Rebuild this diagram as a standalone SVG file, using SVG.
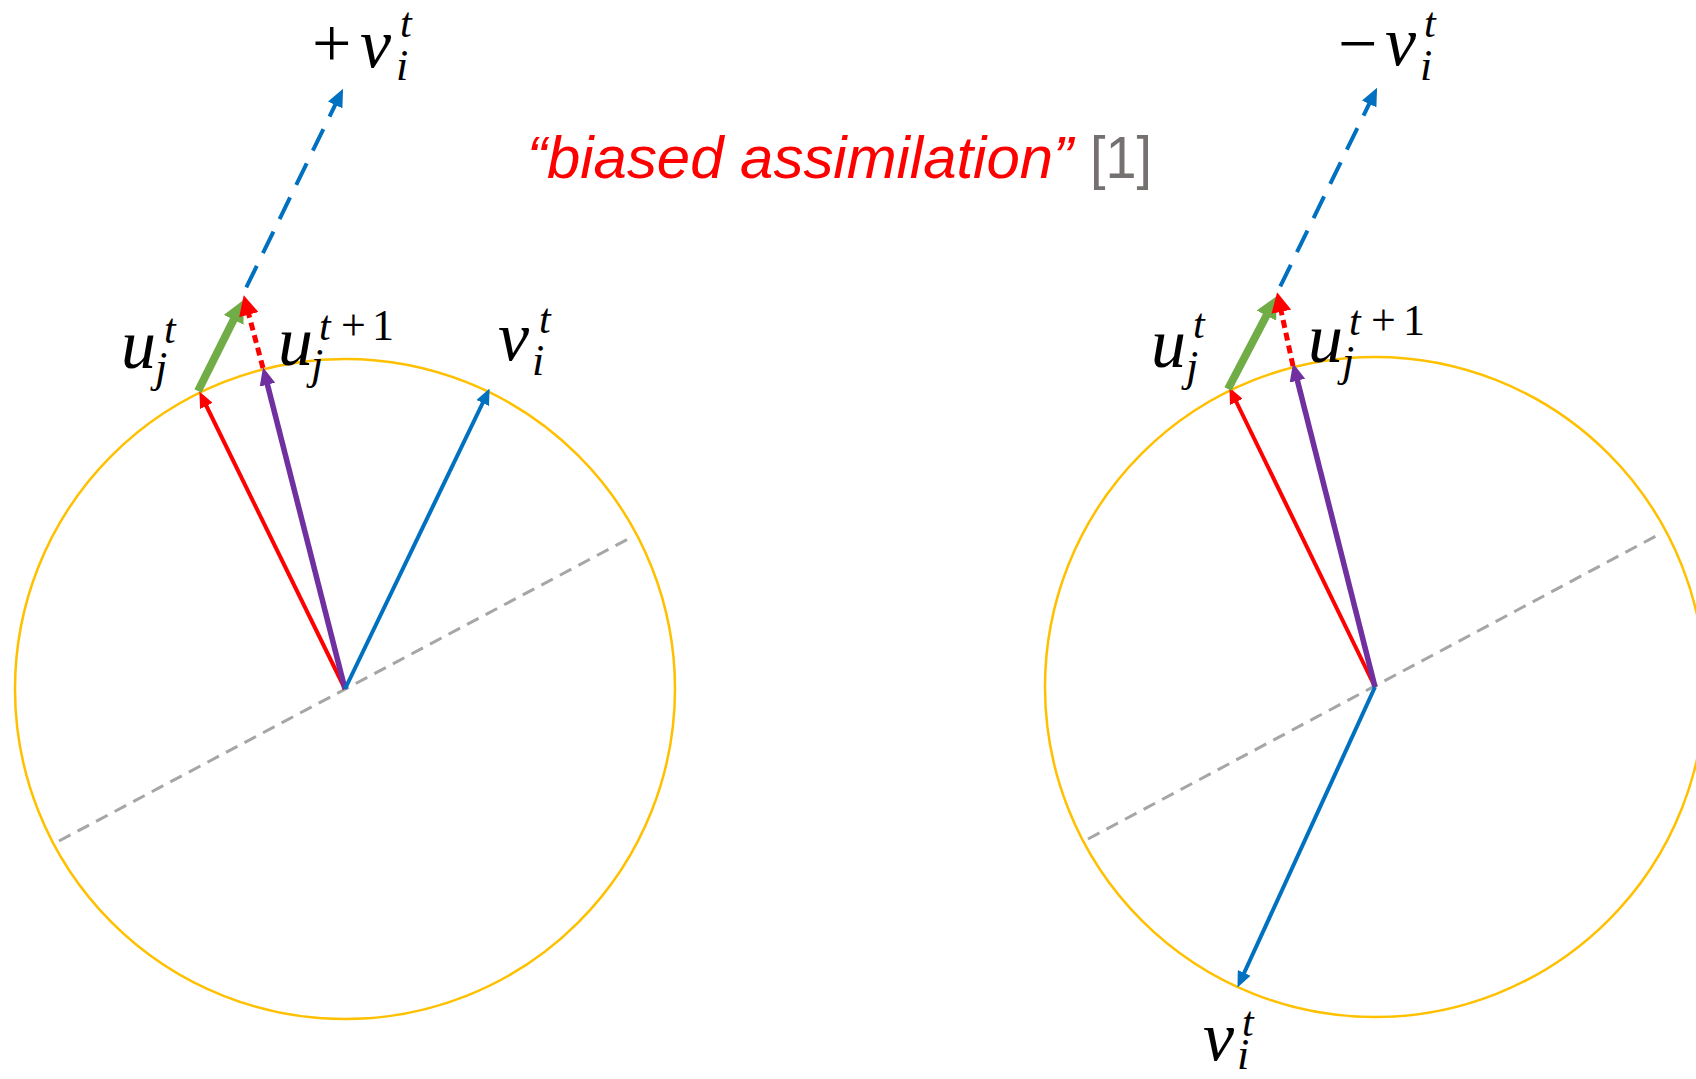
<svg xmlns="http://www.w3.org/2000/svg" width="1696" height="1079" viewBox="0 0 1696 1079">
<style>
.circ{fill:none;stroke:#FFC000;stroke-width:2.5}
.axis{fill:none;stroke:#A6A6A6;stroke-width:3;stroke-dasharray:13 8}
.red{fill:none;stroke:#FF0000;stroke-width:4}
.blue{fill:none;stroke:#0070C0;stroke-width:4}
.purple{fill:none;stroke:#7030A0;stroke-width:5.5}
.green{fill:none;stroke:#70AD47;stroke-width:8}
.reddot{fill:none;stroke:#FF0000;stroke-width:5;stroke-dasharray:8 5}
.bluedash{fill:none;stroke:#0070C0;stroke-width:4;stroke-dasharray:24 14}
.m{font-family:"Liberation Serif","DejaVu Serif",serif;fill:#000}
.mi{font-family:"Liberation Serif","DejaVu Serif",serif;font-style:italic;fill:#000}
.big{font-size:70px}
.sc{font-size:44px}
.sp{font-size:42px}
.title{font-family:"Liberation Sans",Arial,sans-serif;font-size:60px}
</style>
<defs>
<marker id="hRed" markerUnits="userSpaceOnUse" markerWidth="16" markerHeight="14" refX="10" refY="7" orient="auto"><path d="M0,0 L16,7 L0,14 z" fill="#FF0000"/></marker>
<marker id="hBlue" markerUnits="userSpaceOnUse" markerWidth="16" markerHeight="14" refX="10" refY="7" orient="auto"><path d="M0,0 L16,7 L0,14 z" fill="#0070C0"/></marker>
<marker id="hPurple" markerUnits="userSpaceOnUse" markerWidth="18" markerHeight="16" refX="10" refY="8" orient="auto"><path d="M0,0 L18,8 L0,16 z" fill="#7030A0"/></marker>
<marker id="hGreen" markerUnits="userSpaceOnUse" markerWidth="22" markerHeight="22" refX="12" refY="11" orient="auto"><path d="M0,0 L22,11 L0,22 z" fill="#70AD47"/></marker>
<marker id="hRedDot" markerUnits="userSpaceOnUse" markerWidth="20" markerHeight="20" refX="11" refY="10" orient="auto"><path d="M0,0 L20,10 L0,20 z" fill="#FF0000"/></marker>
<marker id="hBlueDash" markerUnits="userSpaceOnUse" markerWidth="18" markerHeight="16" refX="11" refY="8" orient="auto-start-reverse"><path d="M0,0 L18,8 L0,16 z" fill="#0070C0"/></marker>
</defs>

<g id="left-circle"><circle class="circ" cx="345" cy="689" r="330"/></g>
<g id="right-circle"><circle class="circ" cx="1375" cy="687" r="330"/></g>

<g id="connectors">
<!-- left -->
<line class="axis" x1="59" y1="841" x2="630" y2="538"/>
<line class="red" x1="345" y1="689" x2="202" y2="397" marker-end="url(#hRed)"/>
<line class="purple" x1="345" y1="689" x2="265" y2="375" marker-end="url(#hPurple)"/>
<line class="blue" x1="345" y1="689" x2="487" y2="394" marker-end="url(#hBlue)"/>
<line class="green" x1="198" y1="391" x2="239" y2="309" marker-end="url(#hGreen)"/>
<line class="reddot" x1="263" y1="368" x2="246" y2="304" marker-end="url(#hRedDot)"/>
<path class="bluedash" d="M340,95 L246,288" marker-start="url(#hBlueDash)"/>
<!-- right -->
<line class="axis" x1="1088" y1="839" x2="1658" y2="535"/>
<line class="red" x1="1375" y1="687" x2="1232" y2="393" marker-end="url(#hRed)"/>
<line class="purple" x1="1375" y1="687" x2="1295" y2="371" marker-end="url(#hPurple)"/>
<line class="blue" x1="1375" y1="687" x2="1240" y2="982" marker-end="url(#hBlue)"/>
<line class="green" x1="1228" y1="389" x2="1272" y2="305" marker-end="url(#hGreen)"/>
<line class="reddot" x1="1293" y1="366" x2="1279" y2="301" marker-end="url(#hRedDot)"/>
<path class="bluedash" d="M1374,94 L1280,287" marker-start="url(#hBlueDash)"/>
</g>

<g id="title">
<text class="title" x="527" y="178" fill="#FF0000" font-style="italic" textLength="546" lengthAdjust="spacingAndGlyphs">“biased assimilation”</text>
<text class="title" x="1090" y="178" fill="#767171" textLength="62" lengthAdjust="spacingAndGlyphs">[1]</text>
</g>

<g id="label-plus-v">
<text class="m big" x="312" y="67">+</text>
<text class="mi big" x="360" y="67">v</text>
<text class="mi sc" x="396" y="80">i</text>
<text class="mi sp" x="400" y="37">t</text>
</g>
<g id="label-left-u">
<text class="mi big" x="121" y="368">u</text>
<text class="mi sc" x="155" y="382">j</text>
<text class="mi sp" x="164" y="343">t</text>
</g>
<g id="label-left-u1">
<text class="mi big" x="278" y="365">u</text>
<text class="mi sc" x="311" y="379">j</text>
<text class="mi sp" x="319" y="340">t</text>
<text class="m sc" x="341" y="340">+</text>
<text class="m sc" x="372" y="340">1</text>
</g>
<g id="label-left-v">
<text class="mi big" x="498" y="360">v</text>
<text class="mi sc" x="532" y="375">i</text>
<text class="mi sp" x="539" y="333">t</text>
</g>

<g id="label-minus-v">
<text class="m big" x="1338" y="67">−</text>
<text class="mi big" x="1385" y="65">v</text>
<text class="mi sc" x="1420" y="80">i</text>
<text class="mi sp" x="1424" y="37">t</text>
</g>
<g id="label-right-u">
<text class="mi big" x="1151" y="367">u</text>
<text class="mi sc" x="1186" y="381">j</text>
<text class="mi sp" x="1193" y="338">t</text>
</g>
<g id="label-right-u1">
<text class="mi big" x="1308" y="362">u</text>
<text class="mi sc" x="1342" y="376">j</text>
<text class="mi sp" x="1349" y="335">t</text>
<text class="m sc" x="1371" y="335">+</text>
<text class="m sc" x="1403" y="335">1</text>
</g>
<g id="label-right-v">
<text class="mi big" x="1203" y="1060">v</text>
<text class="mi sc" x="1237" y="1069">i</text>
<text class="mi sp" x="1242" y="1036">t</text>
</g>
</svg>
